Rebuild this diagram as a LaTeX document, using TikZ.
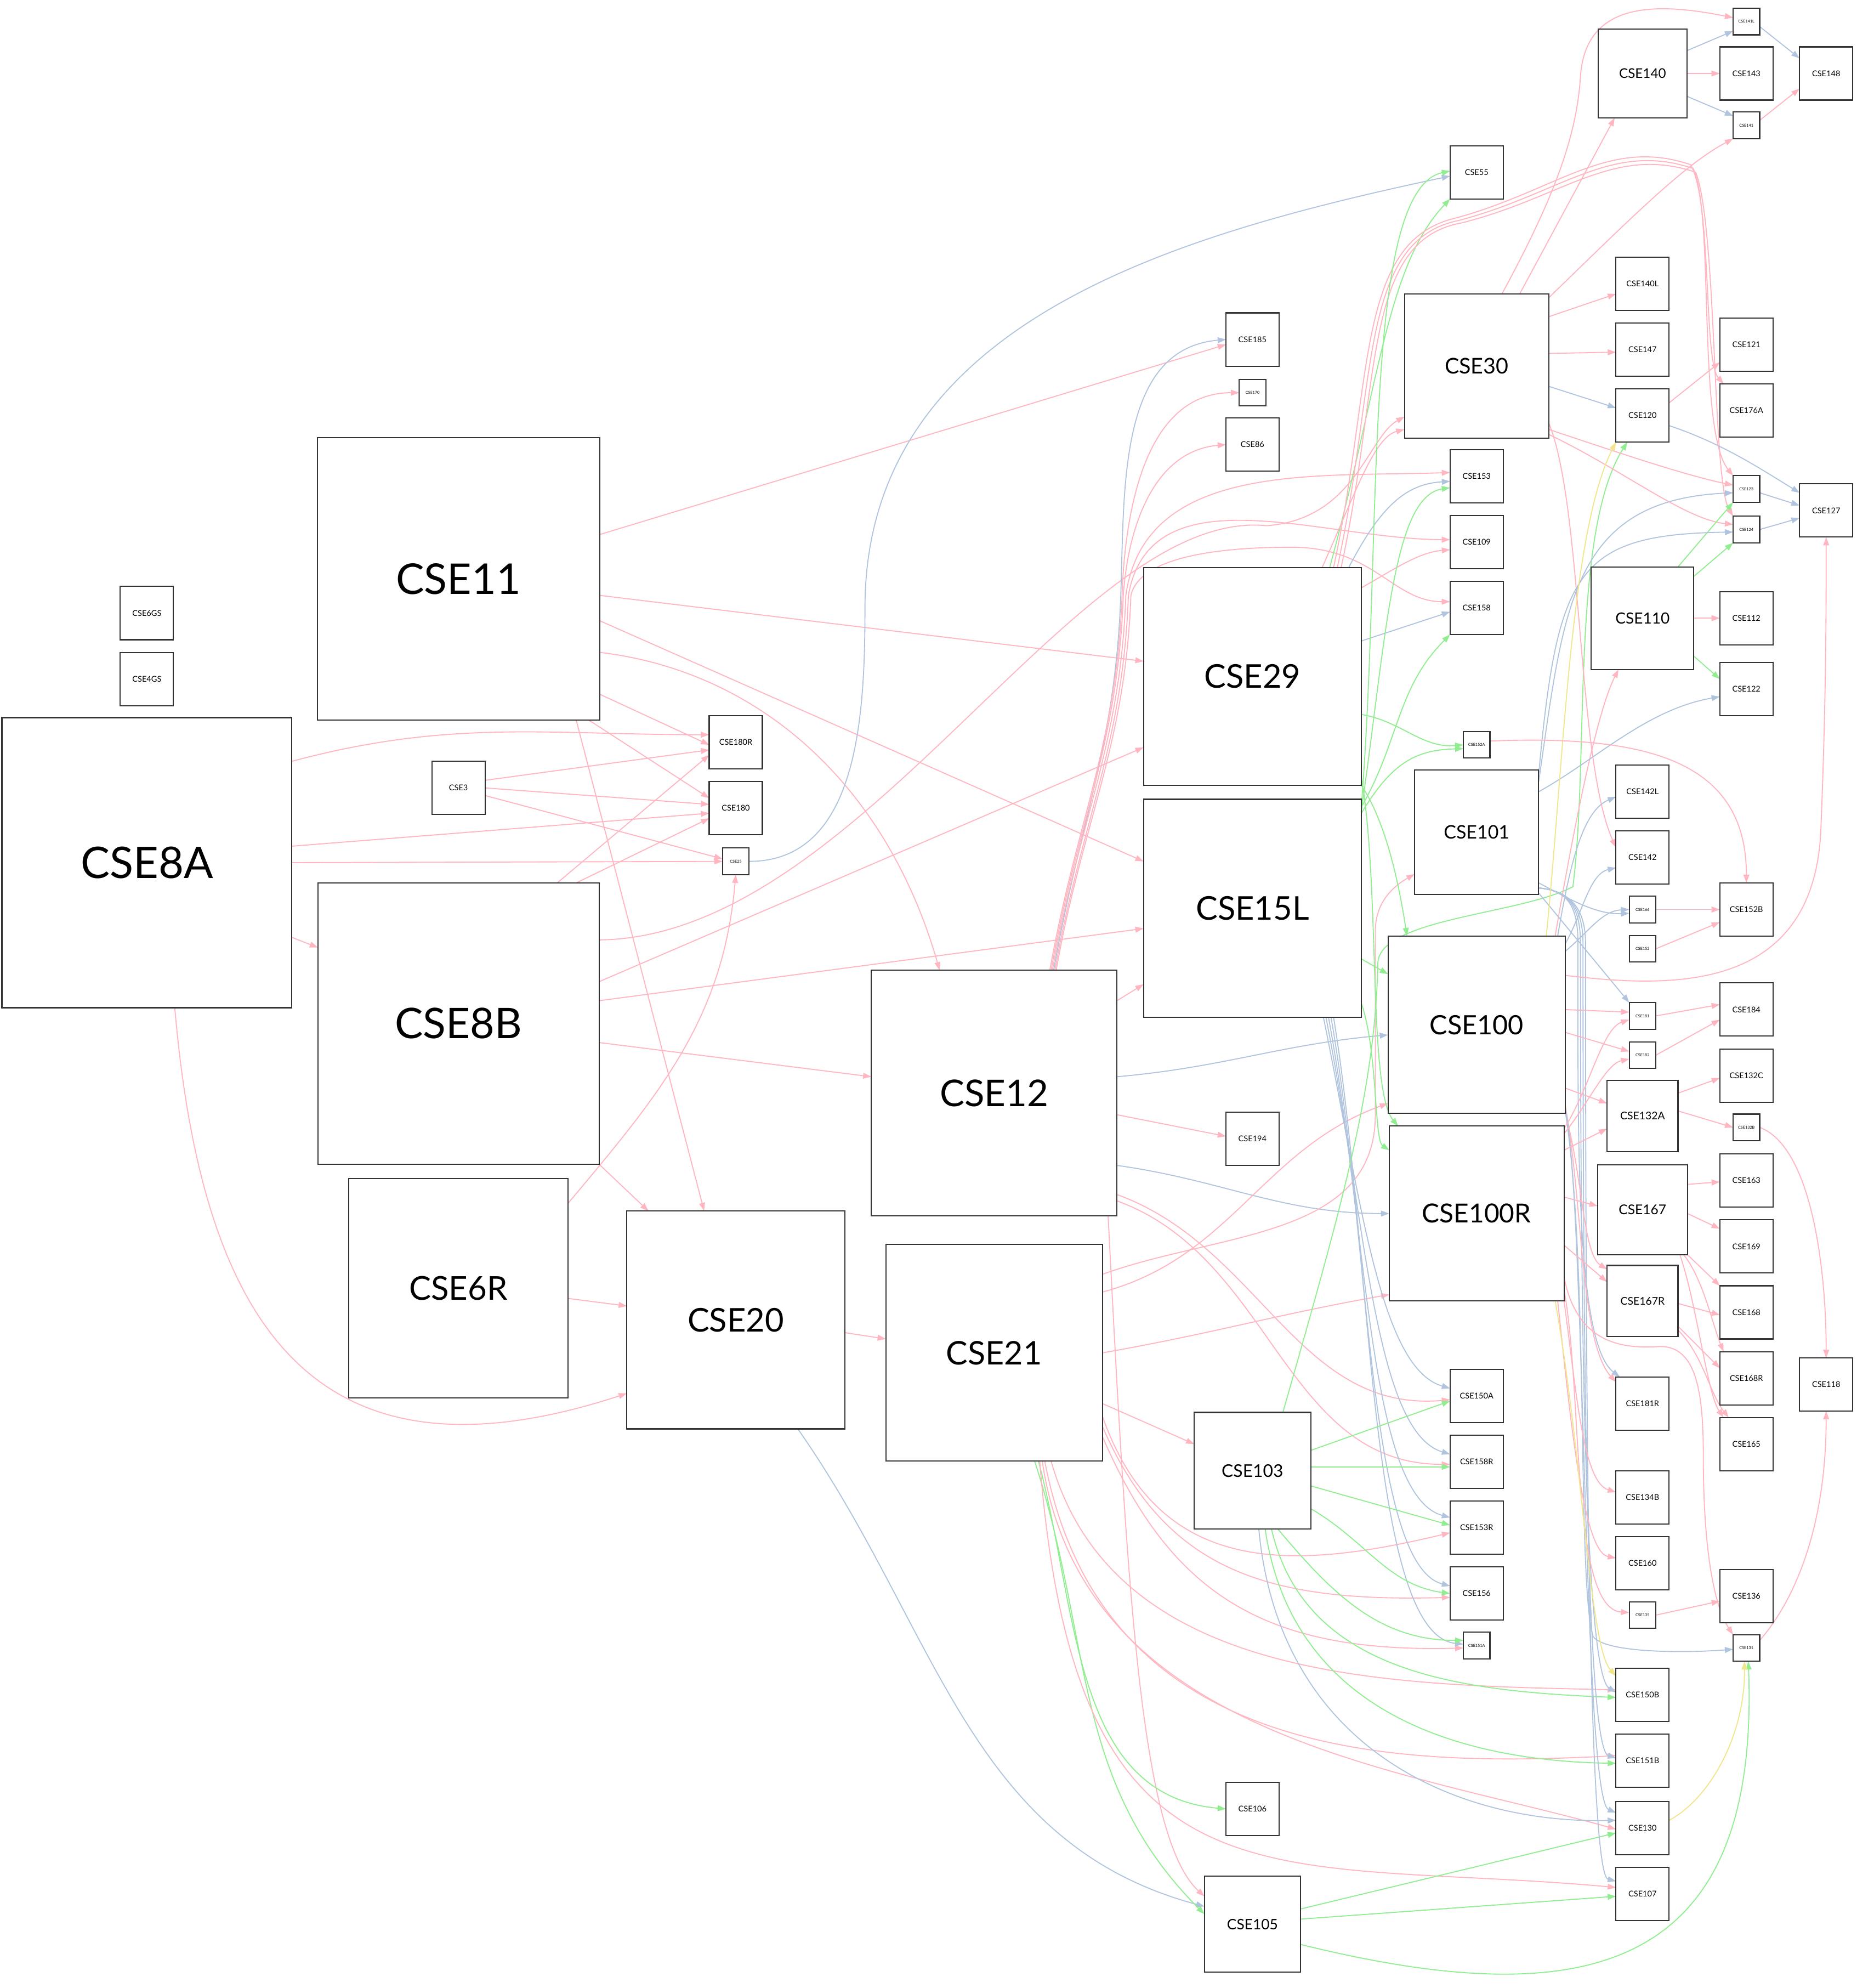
\documentclass[tikz,border=0pt]{standalone}
\usepackage{fontspec}
\setmainfont{Lato}
\usetikzlibrary{arrows.meta}
\definecolor{pk}{RGB}{255,182,193}
\definecolor{bl}{RGB}{176,196,222}
\definecolor{gr}{RGB}{144,238,144}
\definecolor{yl}{RGB}{240,230,140}
\pgfdeclarelayer{bg}
\pgfsetlayers{bg,main}
\tikzset{
  cse/.style={draw=black!80, line width=0.9pt, fill=white, inner sep=0pt, outer sep=0pt, text=black},
  ed/.style={line width=0.8pt, -{Triangle[length=6.5pt,width=4.6pt]}},
  P/.style={ed, draw=pk},
  B/.style={ed, draw=bl},
  G/.style={ed, draw=gr},
  Y/.style={ed, draw=yl}
}
\newcommand\cn[4]{%
  \pgfmathsetmacro\cnfs{0.15*#4}%
  \node[cse, minimum size=#4pt, font=\fontsize{\cnfs pt}{\cnfs pt}\selectfont] (#1) at (#2,-#3) {#1};}
\begin{document}
\begin{tikzpicture}[x=1pt,y=1pt]
\begin{pgfonlayer}{bg}
\fill[white] (0,0) rectangle (1466,-1569.4);
\end{pgfonlayer}
\useasboundingbox (0,0) rectangle (1466,-1569.4);
% ---- nodes
\cn{CSE6GS}{116}{484}{42}
\cn{CSE4GS}{116}{536}{42}
\cn{CSE8A}{116}{681}{229}
\cn{CSE11}{362}{457}{223}
\cn{CSE3}{362}{622}{42}
\cn{CSE8B}{362}{808}{222}
\cn{CSE6R}{362}{1017}{173}
\cn{CSE180R}{581}{586}{42}
\cn{CSE180}{581}{638}{42}
\cn{CSE25}{581}{680}{21}
\cn{CSE20}{581}{1042}{172}
\cn{CSE12}{785}{863}{194}
\cn{CSE21}{785}{1068}{171}
\cn{CSE185}{989}{268}{42}
\cn{CSE170}{989}{310}{21}
\cn{CSE86}{989}{351}{42}
\cn{CSE29}{989}{534}{172}
\cn{CSE15L}{989}{717}{172}
\cn{CSE194}{989}{899}{42}
\cn{CSE103}{989}{1161}{92}
\cn{CSE106}{989}{1428}{42}
\cn{CSE105}{989}{1519}{76}
\cn{CSE55}{1166}{136}{42}
\cn{CSE30}{1166}{289}{114}
\cn{CSE153}{1166}{376}{42}
\cn{CSE109}{1166}{428}{42}
\cn{CSE158}{1166}{480}{42}
\cn{CSE152A}{1166}{588}{21}
\cn{CSE101}{1166}{657}{98}
\cn{CSE100}{1166}{809}{140}
\cn{CSE100R}{1166}{958}{138}
\cn{CSE150A}{1166}{1102}{42}
\cn{CSE158R}{1166}{1154}{42}
\cn{CSE153R}{1166}{1206}{42}
\cn{CSE156}{1166}{1258}{42}
\cn{CSE151A}{1166}{1299}{21}
\cn{CSE140}{1297}{58}{70}
\cn{CSE140L}{1297}{224}{42}
\cn{CSE147}{1297}{276}{42}
\cn{CSE120}{1297}{328}{42}
\cn{CSE110}{1297}{488}{81}
\cn{CSE142L}{1297}{625}{42}
\cn{CSE142}{1297}{677}{42}
\cn{CSE166}{1297}{718}{21}
\cn{CSE152}{1297}{749}{21}
\cn{CSE181}{1297}{802}{21}
\cn{CSE182}{1297}{833}{21}
\cn{CSE132A}{1297}{881}{56}
\cn{CSE167}{1297}{955}{71}
\cn{CSE167R}{1297}{1027}{56}
\cn{CSE181R}{1297}{1108}{42}
\cn{CSE134B}{1297}{1182}{42}
\cn{CSE160}{1297}{1234}{42}
\cn{CSE135}{1297}{1275}{21}
\cn{CSE150B}{1297}{1338}{42}
\cn{CSE151B}{1297}{1390}{42}
\cn{CSE130}{1297}{1443}{42}
\cn{CSE107}{1297}{1495}{42}
\cn{CSE141L}{1379}{17}{21}
\cn{CSE143}{1379}{58}{42}
\cn{CSE141}{1379}{99}{21}
\cn{CSE121}{1379}{272}{42}
\cn{CSE176A}{1379}{324}{42}
\cn{CSE123}{1379}{386}{21}
\cn{CSE124}{1379}{418}{21}
\cn{CSE112}{1379}{488}{42}
\cn{CSE122}{1379}{544}{42}
\cn{CSE152B}{1379}{718}{42}
\cn{CSE184}{1379}{797}{42}
\cn{CSE132C}{1379}{849}{42}
\cn{CSE132B}{1379}{890}{21}
\cn{CSE163}{1379}{932}{42}
\cn{CSE169}{1379}{984}{42}
\cn{CSE168}{1379}{1036}{42}
\cn{CSE168R}{1379}{1088}{42}
\cn{CSE165}{1379}{1140}{42}
\cn{CSE136}{1379}{1260}{42}
\cn{CSE131}{1379}{1301}{21}
\cn{CSE148}{1442}{58}{42}
\cn{CSE127}{1442}{403}{42}
\cn{CSE118}{1442}{1093}{42}
% ---- edges
\begin{pgfonlayer}{bg}
% CSE8A
\draw[P] ([yshift=80]CSE8A.east) to[out=15,in=180] ([yshift=6]CSE180R.west);
\draw[P] ([yshift=13]CSE8A.east) -- ([yshift=-4]CSE180.west);
\draw[P] (CSE8A.east) -- (CSE25.west);
\draw[P] ([yshift=-59]CSE8A.east) -- ([yshift=60]CSE8B.west);
\draw[P] ([xshift=22]CSE8A.south) .. controls (160,-1050) and (250,-1180) .. ([yshift=-58]CSE20.west);
% CSE11
\draw[P] ([yshift=35]CSE11.east) -- ([yshift=-4]CSE185.west);
\draw[P] ([yshift=-13]CSE11.east) -- ([yshift=12]CSE29.west);
\draw[P] ([yshift=-33]CSE11.east) -- ([yshift=37]CSE15L.west);
\draw[P] ([yshift=-58]CSE11.east) .. controls (600,-530) and (700,-620) .. ([xshift=-43]CSE12.north);
\draw[P] ([yshift=-91]CSE11.east) -- ([yshift=-2]CSE180R.west);
\draw[P] ([xshift=103]CSE11.south) -- ([yshift=8]CSE180.west);
\draw[P] ([xshift=93]CSE11.south) -- ([xshift=-25]CSE20.north);
% CSE3
\draw[P] ([yshift=6]CSE3.east) -- ([yshift=-6]CSE180R.west);
\draw[P] (CSE3.east) -- ([yshift=3]CSE180.west);
\draw[P] ([yshift=-6]CSE3.east) -- ([yshift=2]CSE25.west);
% CSE8B
\draw[P] ([xshift=78]CSE8B.north) -- ([yshift=-10]CSE180R.west);
\draw[P] ([xshift=93]CSE8B.north) -- ([yshift=-8]CSE180.west);
\draw[P] ([yshift=66]CSE8B.east) .. controls (680,-740) and (850,-400) .. (1000,-415) .. controls (1070,-410) and (1080,-345) .. ([yshift=-40]CSE30.west);
\draw[P] ([yshift=33]CSE8B.east) -- ([yshift=-56]CSE29.west);
\draw[P] ([yshift=18]CSE8B.east) -- ([yshift=-16]CSE15L.west);
\draw[P] ([yshift=-15]CSE8B.east) -- ([yshift=13]CSE12.west);
\draw[P] (CSE8B.south east) -- ([xshift=-69]CSE20.north);
% CSE6R
\draw[P] ([yshift=-8]CSE6R.east) -- ([yshift=11]CSE20.west);
\draw[P] ([yshift=67]CSE6R.east) to[out=50,in=-95] (CSE25.south);
% CSE25, CSE20
\draw[B] (CSE25.east) to[out=0,in=-90] (683,-480) to[out=90,in=192] ([yshift=-3]CSE55.west);
\draw[P] ([yshift=-10]CSE20.east) -- ([yshift=11]CSE21.west);
\draw[B] ([xshift=49]CSE20.south) to[out=-55,in=165] ([yshift=14]CSE105.west);
% CSE12
\draw[B] ([xshift=47]CSE12.north) to[out=80,in=-92] (885,-470) to[out=88,in=185] (CSE185.west);
\draw[P] ([xshift=44]CSE12.north) to[out=80,in=-92] (886,-470) to[out=88,in=180] (CSE170.west);
\draw[P] ([xshift=45]CSE12.north) to[out=80,in=-92] (887,-470) to[out=86,in=185] (CSE86.west);
\draw[P] ([xshift=46]CSE12.north) to[out=80,in=-92] (889,-470) to[out=82,in=182] ([yshift=3]CSE153.west);
\draw[P] ([xshift=48]CSE12.north) to[out=80,in=-92] (891,-470) to[out=80,in=180] ([yshift=2]CSE109.west);
\draw[P] ([xshift=49]CSE12.north) to[out=80,in=-92] (893,-470) .. controls (900,-440) and (960,-432) .. (1020,-432) .. controls (1085,-432) and (1100,-475) .. ([yshift=5]CSE158.west);
\draw[P] ([yshift=73]CSE12.east) -- ([yshift=-60]CSE15L.west);
\draw[B] ([yshift=13]CSE12.east) to[out=5,in=185] ([yshift=-8]CSE100.west);
\draw[P] ([yshift=-17]CSE12.east) -- ([yshift=2]CSE194.west);
\draw[B] ([yshift=-57]CSE12.east) to[out=-8,in=180] (CSE100R.west);
\draw[P] ([yshift=-80]CSE12.east) to[out=-20,in=185] ([yshift=-3]CSE150A.west);
\draw[P] ([yshift=-85]CSE12.east) to[out=-20,in=180] ([yshift=-2]CSE158R.west);
\draw[P] ([xshift=90]CSE12.south) .. controls (890,-1250) and (900,-1450) .. ([yshift=22]CSE105.west);
% CSE21
\draw[P] ([yshift=48]CSE21.east) to[out=15,in=200] ([yshift=-62]CSE100.west);
\draw[P] (CSE21.east) to[out=10,in=190] ([yshift=-64]CSE100R.west);
\draw[P] ([yshift=62]CSE21.east) to[out=20,in=-90] (1086,-880) -- (1086,-735) to[out=90,in=210] ([yshift=-33]CSE101.west);
\draw[P] ([yshift=-40]CSE21.east) -- ([yshift=21]CSE103.west);
\draw[G] ([xshift=35]CSE21.south) to[out=-75,in=175] (CSE106.west);
\draw[G] ([xshift=32]CSE21.south) to[out=-72,in=135] ([yshift=8]CSE105.west);
\draw[P] ([yshift=-50]CSE21.east) .. controls (915,-1245) and (1020,-1240) .. ([yshift=-4]CSE153R.west);
\draw[P] ([yshift=-58]CSE21.east) .. controls (920,-1240) and (1000,-1265) .. ([yshift=-3]CSE156.west);
\draw[P] ([yshift=-66]CSE21.east) .. controls (925,-1260) and (1000,-1305) .. ([yshift=-2]CSE151A.west);
\draw[P] ([xshift=45]CSE21.south) .. controls (880,-1330) and (1100,-1330) .. ([yshift=4]CSE150B.west);
\draw[P] ([xshift=40]CSE21.south) .. controls (870,-1390) and (1100,-1395) .. ([yshift=4]CSE151B.west);
\draw[P] ([xshift=38]CSE21.south) .. controls (855,-1370) and (1100,-1395) .. ([yshift=-1]CSE130.west);
\draw[P] ([xshift=36]CSE21.south) .. controls (850,-1520) and (1000,-1465) .. ([yshift=5]CSE107.west);
% CSE29
\draw[G] ([xshift=61]CSE29.north) .. controls (1090,-300) and (1095,-210) .. (CSE55.south west);
\draw[P] ([xshift=55]CSE29.north) .. controls (1070,-390) and (1085,-345) .. ([yshift=-50]CSE30.west);
\draw[B] ([xshift=76]CSE29.north) .. controls (1090,-400) and (1110,-382) .. ([yshift=-4]CSE153.west);
\draw[P] ([yshift=70]CSE29.east) .. controls (1100,-450) and (1120,-436) .. ([yshift=-6]CSE109.west);
\draw[B] ([yshift=28]CSE29.east) -- ([yshift=-3]CSE158.west);
\draw[G] ([yshift=-30]CSE29.east) to[out=-10,in=185] (CSE152A.west);
\draw[G] (CSE29.south east) .. controls (1095,-650) and (1105,-700) .. ([xshift=-55]CSE100.north);
\draw[G] ([yshift=-80]CSE29.east) .. controls (1090,-700) and (1080,-860) .. ([xshift=-62]CSE100R.north);
\draw[P] ([xshift=64]CSE29.north) .. controls (1085,-300) and (1070,-190) .. (1150,-172) .. controls (1230,-150) and (1270,-108) .. (1335,-130) .. controls (1352,-160) and (1345,-285) .. ([xshift=3]CSE176A.north west);
\draw[P] ([xshift=67]CSE29.north) .. controls (1088,-300) and (1073,-190) .. (1152,-174) .. controls (1232,-153) and (1272,-111) .. (1337,-133) .. controls (1354,-170) and (1340,-340) .. (CSE123.north west);
\draw[P] ([xshift=70]CSE29.north) .. controls (1091,-300) and (1076,-190) .. (1154,-176) .. controls (1234,-156) and (1274,-114) .. (1339,-136) .. controls (1356,-180) and (1352,-380) .. (CSE124.north west);
% CSE15L
\draw[G] ([yshift=-5]CSE15L.north east) .. controls (1092,-420) and (1075,-150) .. ([yshift=1]CSE55.west);
\draw[G] ([yshift=77]CSE15L.east) .. controls (1095,-500) and (1100,-392) .. ([yshift=-9]CSE153.west);
\draw[G] ([yshift=80]CSE15L.east) to[out=60,in=225] (CSE158.south west);
\draw[G] ([yshift=75]CSE15L.east) .. controls (1100,-600) and (1120,-592) .. ([yshift=-3]CSE152A.west);
\draw[G] ([yshift=-40]CSE15L.east) -- ([yshift=40]CSE100.west);
\draw[G] ([yshift=-75]CSE15L.east) .. controls (1088,-830) and (1085,-900) .. ([yshift=50]CSE100R.west);
\draw[B] ([xshift=56]CSE15L.south) .. controls (1075,-950) and (1090,-1080) .. ([yshift=6]CSE150A.west);
\draw[B] ([xshift=58]CSE15L.south) .. controls (1078,-960) and (1085,-1130) .. ([yshift=6]CSE158R.west);
\draw[B] ([xshift=60]CSE15L.south) .. controls (1080,-970) and (1080,-1180) .. ([yshift=8]CSE153R.west);
\draw[B] ([xshift=62]CSE15L.south) .. controls (1082,-980) and (1080,-1235) .. ([yshift=6]CSE156.west);
\draw[B] ([xshift=64]CSE15L.south) .. controls (1084,-990) and (1080,-1290) .. ([yshift=1]CSE151A.west);
% CSE103
\draw[G] ([yshift=16]CSE103.east) -- ([yshift=-4]CSE150A.west);
\draw[G] ([yshift=3]CSE103.east) -- ([yshift=-4]CSE158R.west);
\draw[G] ([yshift=-12]CSE103.east) -- ([yshift=2]CSE153R.west);
\draw[G] ([yshift=-30]CSE103.east) to[out=-30,in=172] (CSE156.west);
\draw[G] ([xshift=20]CSE103.south) to[out=-50,in=180] ([yshift=4]CSE151A.west);
\draw[G] ([xshift=15]CSE103.south) .. controls (1030,-1320) and (1150,-1335) .. ([yshift=-2]CSE150B.west);
\draw[G] ([xshift=10]CSE103.south) .. controls (1020,-1350) and (1150,-1390) .. ([yshift=-2]CSE151B.west);
\draw[B] ([xshift=5]CSE103.south) .. controls (1010,-1380) and (1150,-1440) .. ([yshift=6]CSE130.west);
\draw[G] ([xshift=24]CSE103.north) .. controls (1060,-950) and (1086,-860) .. (1088,-760) .. controls (1090,-725) and (1200,-722) .. (1242,-700) .. controls (1255,-600) and (1240,-420) .. ([xshift=-12]CSE120.south);
% CSE105, CSE130
\draw[G] ([yshift=12]CSE105.east) -- ([yshift=-4]CSE130.west);
\draw[G] ([yshift=4]CSE105.east) -- ([yshift=-2]CSE107.west);
\draw[G] ([yshift=-16]CSE105.east) .. controls (1250,-1590) and (1390,-1560) .. ([xshift=1.5]CSE131.south);
\draw[Y] ([yshift=6]CSE130.east) .. controls (1350,-1420) and (1378,-1370) .. ([xshift=-1.5]CSE131.south);
% CSE30
\draw[P] ([xshift=34]CSE30.north) -- ([xshift=-22]CSE140.south);
\draw[P] ([yshift=-3]CSE30.north east) .. controls (1290,-170) and (1330,-130) .. (CSE141.south west);
\draw[P] ([xshift=20]CSE30.north) .. controls (1225,-160) and (1245,-110) .. (1248,-60) .. controls (1252,-5) and (1300,0) .. ([yshift=3]CSE141L.west);
\draw[P] ([yshift=39]CSE30.east) -- ([yshift=-8]CSE140L.west);
\draw[P] ([yshift=10]CSE30.east) -- ([yshift=-2]CSE147.west);
\draw[B] ([yshift=-16]CSE30.east) -- ([yshift=6]CSE120.west);
\draw[P] ([yshift=-45]CSE30.east) .. controls (1250,-400) and (1245,-600) .. ([yshift=8]CSE142.west);
\draw[P] ([yshift=-50]CSE30.east) .. controls (1280,-358) and (1330,-375) .. ([yshift=3]CSE123.west);
\draw[P] ([yshift=-54]CSE30.east) .. controls (1280,-370) and (1330,-410) .. ([yshift=4]CSE124.west);
% CSE110
\draw[P] (CSE110.east) -- (CSE112.west);
\draw[G] ([yshift=-30]CSE110.east) -- ([yshift=8]CSE122.west);
\draw[G] ([xshift=28]CSE110.north) -- (CSE123.south west);
\draw[G] ([yshift=33]CSE110.east) -- (CSE124.south west);
\draw[P] ([xshift=62]CSE100.north) .. controls (1245,-640) and (1262,-560) .. ([xshift=-19]CSE110.south);
% CSE101
\draw[B] ([yshift=32]CSE101.east) .. controls (1260,-600) and (1300,-560) .. ([yshift=-6]CSE122.west);
\draw[B] ([yshift=40]CSE101.east) .. controls (1235,-480) and (1240,-395) .. ([yshift=-3]CSE123.west);
\draw[B] ([yshift=46]CSE101.east) .. controls (1230,-450) and (1245,-422) .. ([yshift=-2]CSE124.west);
\draw[B] ([yshift=-40]CSE101.east) .. controls (1240,-710) and (1260,-722) .. ([yshift=-3]CSE166.west);
\draw[B] ([yshift=-48]CSE101.east) -- (CSE181.north west);
\draw[B] ([yshift=-44]CSE101.east) .. controls (1238,-703) and (1246,-715) .. (1246,-745) .. controls (1246,-900) and (1244,-1060) .. ([xshift=3]CSE181R.north west);
\draw[B] ([yshift=-44]CSE101.east) .. controls (1238,-703) and (1248,-715) .. (1248,-745) .. controls (1248,-1000) and (1250,-1320) .. ([yshift=2]CSE150B.west);
\draw[B] ([yshift=-44]CSE101.east) .. controls (1238,-703) and (1250,-715) .. (1250,-745) .. controls (1250,-1050) and (1252,-1380) .. ([yshift=2]CSE151B.west);
\draw[B] ([yshift=-44]CSE101.east) .. controls (1238,-703) and (1252,-715) .. (1252,-745) .. controls (1252,-1100) and (1254,-1480) .. ([yshift=10]CSE107.west);
% CSE100
\draw[B] ([xshift=64]CSE100.north) .. controls (1240,-680) and (1250,-640) .. ([yshift=-4]CSE142L.west);
\draw[B] ([yshift=64]CSE100.east) .. controls (1250,-720) and (1255,-690) .. ([yshift=-8]CSE142.west);
\draw[B] ([yshift=58]CSE100.east) .. controls (1255,-735) and (1265,-719) .. (CSE166.west);
\draw[Y] ([xshift=55]CSE100.north) .. controls (1235,-600) and (1240,-420) .. (CSE120.south west);
\draw[P] ([yshift=12]CSE100.east) -- ([yshift=3]CSE181.west);
\draw[P] ([yshift=-6]CSE100.east) -- ([yshift=3]CSE182.west);
\draw[P] ([yshift=39]CSE100.east) .. controls (1320,-780) and (1435,-785) .. (1438,-650) .. controls (1442,-550) and (1442,-480) .. (CSE127.south);
\draw[P] ([yshift=-50]CSE100.east) -- ([yshift=10]CSE132A.west);
\draw[P] (CSE100.south east) .. controls (1250,-930) and (1250,-990) .. ([yshift=-3]CSE167R.north west);
\draw[P] ([yshift=-64]CSE100.east) .. controls (1250,-950) and (1248,-1060) .. ([yshift=-4]CSE181R.north west);
\draw[B] ([yshift=-66]CSE100.east) .. controls (1252,-950) and (1250,-1420) .. ([yshift=12]CSE130.west);
\draw[B] ([yshift=-68]CSE100.east) .. controls (1255,-1000) and (1245,-1250) .. (1258,-1292) .. controls (1268,-1305) and (1330,-1305) .. ([yshift=-1]CSE131.west);
% CSE100R
\draw[P] ([yshift=67]CSE100R.east) .. controls (1255,-860) and (1265,-812) .. ([yshift=-3]CSE181.west);
\draw[P] ([yshift=63]CSE100R.east) .. controls (1255,-870) and (1268,-840) .. ([yshift=-3]CSE182.west);
\draw[P] ([yshift=50]CSE100R.east) -- ([yshift=-10]CSE132A.west);
\draw[P] ([yshift=13]CSE100R.east) -- ([yshift=3]CSE167.west);
\draw[P] ([yshift=-25]CSE100R.east) -- ([yshift=15]CSE167R.west);
\draw[P] ([yshift=-50]CSE100R.east) .. controls (1245,-1060) and (1280,-1065) .. (1310,-1063) .. controls (1340,-1062) and (1345,-1100) .. (1345,-1150) .. controls (1345,-1230) and (1355,-1270) .. (CSE131.north west);
\draw[P] ([yshift=-60]CSE100R.east) .. controls (1250,-1100) and (1240,-1270) .. ([yshift=2]CSE135.west);
\draw[P] (CSE100R.south east) .. controls (1245,-1100) and (1250,-1170) .. ([yshift=4]CSE134B.west);
\draw[P] ([xshift=-5]CSE100R.south east) .. controls (1240,-1120) and (1250,-1225) .. ([yshift=4]CSE160.west);
\draw[Y] ([xshift=62]CSE100R.south) .. controls (1250,-1150) and (1255,-1300) .. ([yshift=-6]CSE150B.north west);
% right side
\draw[P] ([yshift=10]CSE120.east) -- ([yshift=-14]CSE121.west);
\draw[B] ([yshift=-8]CSE120.east) .. controls (1360,-350) and (1390,-370) .. ([yshift=14]CSE127.west);
\draw[B] ([yshift=-3]CSE123.east) -- ([yshift=4]CSE127.west);
\draw[B] (CSE124.east) -- ([yshift=-6]CSE127.west);
\draw[P] ([yshift=6]CSE131.east) .. controls (1420,-1260) and (1442,-1200) .. (CSE118.south);
\draw[P] (CSE132B.east) .. controls (1430,-905) and (1442,-1000) .. (CSE118.north);
\draw[P] (CSE166.east) -- (CSE152B.west);
\draw[P] (CSE152.east) -- ([yshift=-10]CSE152B.west);
\draw[P] ([yshift=3]CSE152A.east) .. controls (1300,-580) and (1379,-600) .. (CSE152B.north);
\draw[P] (CSE181.east) -- ([yshift=4]CSE184.west);
\draw[P] (CSE182.east) -- ([yshift=-8]CSE184.west);
\draw[P] ([yshift=18]CSE132A.east) -- ([yshift=-2]CSE132C.west);
\draw[P] ([yshift=4]CSE132A.east) -- (CSE132B.west);
\draw[P] ([yshift=20]CSE167.east) -- ([yshift=-1]CSE163.west);
\draw[P] ([yshift=-3]CSE167.east) -- ([yshift=14]CSE169.west);
\draw[P] (CSE167.south east) -- (CSE168.north west);
\draw[P] ([xshift=-3]CSE167.south east) .. controls (1345,-1010) and (1352,-1045) .. ([xshift=3]CSE168R.north west);
\draw[P] ([xshift=-6]CSE167.south east) .. controls (1340,-1030) and (1348,-1100) .. ([xshift=3]CSE165.north west);
\draw[P] ([yshift=-2]CSE167R.east) -- ([yshift=-2]CSE168.west);
\draw[P] ([yshift=-20]CSE167R.east) -- ([yshift=8]CSE168R.west);
\draw[P] ([yshift=-23]CSE167R.east) .. controls (1345,-1070) and (1350,-1100) .. ([xshift=7]CSE165.north west);
\draw[P] (CSE135.east) -- ([yshift=-4]CSE136.west);
\draw[P] (CSE140.east) -- (CSE143.west);
\draw[B] ([yshift=18]CSE140.east) -- ([yshift=3]CSE141L.south west);
\draw[B] ([yshift=-18]CSE140.east) -- ([yshift=-3]CSE141.north west);
\draw[B] ([yshift=-4]CSE141L.east) -- ([yshift=12]CSE148.west);
\draw[P] ([yshift=4]CSE141.east) -- ([yshift=-12]CSE148.west);
\end{pgfonlayer}
\end{tikzpicture}
\end{document}
